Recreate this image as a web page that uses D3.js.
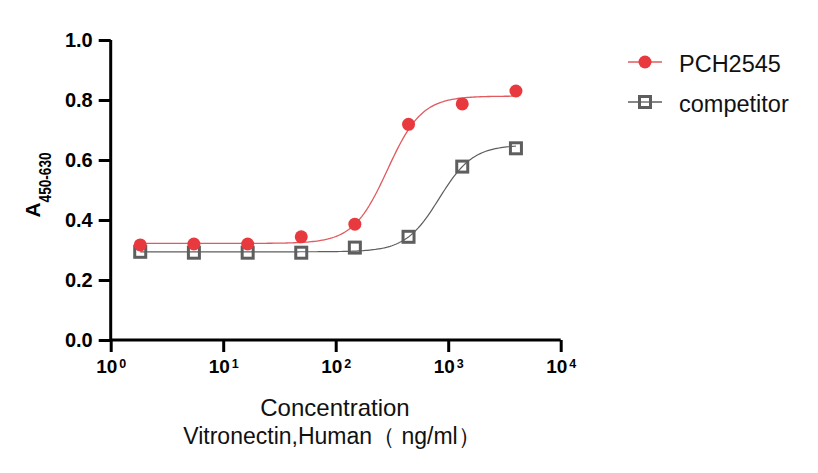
<!DOCTYPE html>
<html>
<head>
<meta charset="utf-8">
<script src="https://cdn.jsdelivr.net/npm/d3@7"></script>
<style>
  body { margin: 0; background: #fff; }
  svg { display: block; }
</style>
</head>
<body>
<svg width="818" height="473"></svg>
<script>
// concentrations (ng/ml), 3-fold dilution
const conc = [1.83, 5.49, 16.5, 49.4, 148, 444, 1333, 4000]
const pch2545 = [0.317, 0.320, 0.320, 0.344, 0.386, 0.719, 0.787, 0.830]
const competitor = [0.294, 0.291, 0.291, 0.291, 0.308, 0.344, 0.578, 0.639]
// 4PL fit: bottom, top, log10 EC50, hill
const fitPCH = [0.322, 0.813, 2.46, 2.85]
const fitComp = [0.294, 0.650, 2.92, 2.9]
const xTicks = [0, 1, 2, 3, 4]
const yTicks = [0, 0.2, 0.4, 0.6, 0.8, 1.0]
const seriesNames = ["PCH2545", "competitor"]

const svg = d3.select("svg")
const x = d3.scaleLog().domain([1, 1e4]).range([110.7, 560.7])
const y = d3.scaleLinear().domain([0, 1]).range([340, 40])

const red = "#e8393e", gray = "#5e5e5e"
const tickFont = "'Liberation Sans', Arial, sans-serif"
const textFont = "'Microsoft YaHei', 'Liberation Sans', Arial, sans-serif"

// fitted curves
function fourPL(p) {
  return lx => p[0] + (p[1] - p[0]) / (1 + Math.pow(10, (p[2] - lx) * p[3]))
}
function curvePts(p) {
  const f = fourPL(p)
  const lo = Math.log10(conc[0]), hi = Math.log10(conc[conc.length - 1])
  return d3.range(0, 201).map(i => {
    const lx = lo + (hi - lo) * i / 200
    return [x(Math.pow(10, lx)), y(f(lx))]
  })
}
const line = d3.line().curve(d3.curveLinear)

svg.append("path").attr("d", line(curvePts(fitComp)))
  .attr("fill", "none").attr("stroke", gray).attr("stroke-width", 1.2)
svg.append("path").attr("d", line(curvePts(fitPCH)))
  .attr("fill", "none").attr("stroke", "#e05a5e").attr("stroke-width", 1.3)

// points
svg.append("g").selectAll("rect").data(competitor).enter().append("rect")
  .attr("x", (d, i) => x(conc[i]) - 5.5)
  .attr("y", d => y(d) - 5.5)
  .attr("width", 11).attr("height", 11)
  .attr("fill", "none").attr("stroke", gray).attr("stroke-width", 3)
svg.append("g").selectAll("circle").data(pch2545).enter().append("circle")
  .attr("cx", (d, i) => x(conc[i]))
  .attr("cy", d => y(d))
  .attr("r", 6.5).attr("fill", red)

// y axis
const yAxis = svg.append("g").attr("transform", "translate(110.7,0)")
  .call(d3.axisLeft(y).tickValues(yTicks).tickFormat(d3.format(".1f")).tickSize(12).tickPadding(6))
yAxis.select(".domain").attr("d", "M0," + y(1) + "V" + y(0)).attr("stroke-width", 3).attr("stroke", "#000")
yAxis.selectAll(".tick line").attr("stroke-width", 3).attr("stroke", "#000")
yAxis.selectAll(".tick text").attr("font-family", tickFont).attr("font-weight", "bold")
  .attr("font-size", 20).attr("fill", "#000")

// x axis
const xAxis = svg.append("g").attr("transform", "translate(0,340)")
  .call(d3.axisBottom(x).tickValues(xTicks.map(e => Math.pow(10, e))).tickFormat("").tickSize(12))
xAxis.select(".domain").attr("d", "M" + x(1) + ",0H" + x(1e4)).attr("stroke-width", 3).attr("stroke", "#000")
xAxis.selectAll(".tick line").attr("stroke-width", 3).attr("stroke", "#000")
xAxis.selectAll(".tick").each(function(d, i) {
  const t = d3.select(this).append("text")
    .attr("y", 33).attr("text-anchor", "middle")
    .attr("font-family", tickFont).attr("font-weight", "bold").attr("font-size", 19).attr("fill", "#000")
  t.append("tspan").text("10")
  t.append("tspan").attr("dx", 2).attr("dy", -5).attr("font-size", 12.5).text(xTicks[i])
})

// axis titles
const yl = svg.append("text")
  .attr("transform", "translate(40,185) rotate(-90)")
  .attr("text-anchor", "middle")
  .attr("font-family", tickFont).attr("font-weight", "bold").attr("fill", "#000")
yl.append("tspan").attr("font-size", 21).text("A")
yl.append("tspan").attr("font-size", 17).attr("dy", 11)
  .attr("textLength", 50).attr("lengthAdjust", "spacingAndGlyphs").text("450-630")

svg.append("text").attr("x", 335).attr("y", 416).attr("text-anchor", "middle")
  .attr("font-family", textFont).attr("font-size", 24).attr("fill", "#111").text("Concentration")
svg.append("text").attr("x", 332).attr("y", 444).attr("text-anchor", "middle")
  .attr("font-family", textFont).attr("font-size", 23).attr("fill", "#111").text("Vitronectin,Human（ ng/ml）")

// legend
const leg = svg.append("g")
seriesNames.forEach((name, i) => {
  const cy = 62 + i * 40
  leg.append("line").attr("x1", 628).attr("x2", 662).attr("y1", cy).attr("y2", cy)
    .attr("stroke", i === 0 ? "#e05a5e" : gray).attr("stroke-width", 1.3)
  if (i === 0) {
    leg.append("circle").attr("cx", 645).attr("cy", cy).attr("r", 6.5).attr("fill", red)
  } else {
    leg.append("rect").attr("x", 639.5).attr("y", cy - 5.5).attr("width", 11).attr("height", 11)
      .attr("fill", "#fff").attr("stroke", gray).attr("stroke-width", 3)
    leg.append("line").attr("x1", 641).attr("x2", 649).attr("y1", cy).attr("y2", cy)
      .attr("stroke", gray).attr("stroke-width", 1.3)
  }
  leg.append("text").attr("x", 679).attr("y", cy + 10)
    .attr("font-family", textFont).attr("font-size", 23.5).attr("fill", "#111").text(name)
})
</script>
</body>
</html>
